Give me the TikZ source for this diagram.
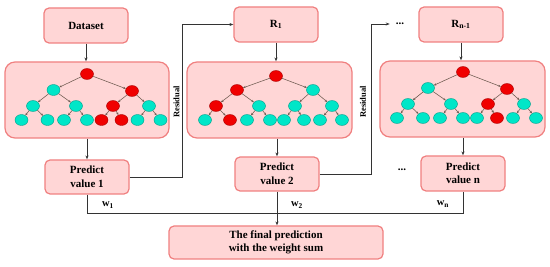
\documentclass[tikz,border=0pt]{standalone}
\usepackage{fontspec}
\setmainfont{Liberation Serif}
\usetikzlibrary{arrows.meta,shapes.geometric}
\definecolor{boxfill}{RGB}{255,214,214}
\definecolor{boxline}{RGB}{240,128,128}
\definecolor{cyanfill}{RGB}{0,230,200}
\definecolor{cyanline}{RGB}{0,160,140}
\definecolor{redfill}{RGB}{240,0,0}
\definecolor{redline}{RGB}{170,0,0}
\definecolor{edgecol}{RGB}{110,90,80}
\tikzset{
  pbox/.style={draw=boxline,fill=boxfill,line width=1.2pt,rounded corners=5pt,
    minimum width=84pt,minimum height=35pt,inner sep=0pt,align=center,
    font=\fontsize{11}{13.5}\selectfont\bfseries},
  tbox/.style={draw=boxline,fill=boxfill,line width=1.2pt,rounded corners=10pt,
    minimum width=164pt,minimum height=76pt,inner sep=0pt},
  cn/.style={ellipse,draw=cyanline,fill=cyanfill,line width=0.4pt,minimum width=13pt,minimum height=11pt,inner sep=0pt},
  rn/.style={ellipse,draw=redline,fill=redfill,line width=0.4pt,minimum width=13pt,minimum height=11pt,inner sep=0pt},
  tedge/.style={draw=edgecol,line width=0.55pt,-{Stealth[length=2.6pt,width=2.2pt]}},
  conn/.style={draw=black!80,line width=0.8pt},
  carrow/.style={conn,-{Stealth[length=4pt,width=3pt]}},
  lbl/.style={font=\fontsize{10.5}{12}\selectfont\bfseries,inner sep=0pt},
  rlbl/.style={font=\fontsize{8.5}{10}\selectfont\bfseries,inner sep=0pt,rotate=90},
  dots/.style={font=\fontsize{11}{12}\selectfont\bfseries,inner sep=0pt}
}
\newcommand\treeedges[1]{%
  \foreach \p/\q in {root/a,root/b,a/aa,a/ab,b/ba,b/bb,aa/aaa,aa/aab,ab/aba,ab/abb,ba/baa,ba/bab,bb/bba,bb/bbb}
    \draw[tedge] (#1\p) -- (#1\q);}
\begin{document}
\begin{tikzpicture}[x=1pt,y=-1pt]
\useasboundingbox (0,0) rectangle (550,267);

% top boxes
\node[pbox] (ds) at (86,25.5) {Dataset};
\node[pbox] (r1) at (276,24.5) {R\textsubscript{1}};
\node[pbox] (rn) at (461,24.5) {R\textsubscript{n-1}};

% tree boxes
\node[tbox] (t1) at (87,100) {};
\node[tbox,minimum width=165pt] (t2) at (269.5,100) {};
\node[tbox,minimum width=165pt] (t3) at (462.5,99) {};

% predict boxes
\node[pbox,minimum height=34pt] (p1) at (87,177) {Predict\\value 1};
\node[pbox,minimum height=34pt] (p2) at (277,174) {Predict\\value 2};
\node[pbox] (pn) at (463,173.5) {Predict\\value n};

% final box
\node[pbox,minimum width=214pt,minimum height=33pt] (fin) at (276,242.5) {The final prediction\\with the weight sum};

% tree 1
\begin{scope}[shift={(91,62)}]
\foreach \n/\x/\y/\c in {root/-4/12/rn,a/-37.5/28/cn,b/41/29/rn,aa/-58/44/cn,ab/-15/44/cn,ba/22/44/rn,bb/58/44/cn,
  aaa/-69.5/58/cn,aab/-43.5/58/cn,aba/-27/58/cn,abb/-4/58/cn,baa/10.5/58/rn,bab/30.5/58/rn,bba/46.5/58/cn,bbb/69.5/58/cn}
  \node[\c] (A\n) at (\x,\y) {};
\end{scope}
\treeedges{A}

% tree 2
\begin{scope}[shift={(273.5,62)}]
\foreach \n/\x/\y/\c in {root/2.5/14/rn,a/-36.5/28/rn,b/39.5/28/cn,aa/-57.5/44/rn,ab/-14.5/44/cn,ba/21.5/44/cn,bb/58.5/44/cn,
  aaa/-68.5/58/cn,aab/-43.5/58/rn,aba/-26.5/58/cn,abb/-3.5/58/cn,baa/10.5/58/cn,bab/30.5/58/cn,bba/46.5/58/cn,bbb/68.5/58/cn}
  \node[\c] (B\n) at (\x,\y) {};
\end{scope}
\treeedges{B}

% tree 3
\begin{scope}[shift={(466.5,61)}]
\foreach \n/\x/\y/\c in {root/-3.5/11/rn,a/-38.5/27/cn,b/40.5/28/rn,aa/-58.5/43/cn,ab/-15.5/43/cn,ba/21.5/43/rn,bb/57.5/43/cn,
  aaa/-69.5/57/cn,aab/-43.5/57/cn,aba/-26.5/57/cn,abb/-3.5/57/cn,baa/10.5/57/cn,bab/30.5/57/rn,bba/46.5/57/cn,bbb/69.5/57/cn}
  \node[\c] (C\n) at (\x,\y) {};
\end{scope}
\treeedges{C}

% vertical flow
\draw[carrow] (ds.south) -- (ds.south |- t1.north);
\draw[carrow] (t1.south -| p1.north) -- (p1.north);
\draw[carrow] (r1.south) -- (r1.south |- t2.north);
\draw[carrow] (t2.south -| p2.north) -- (p2.north);
\draw[carrow] (rn.south) -- (rn.south |- t3.north);
\draw[carrow] (t3.south -| pn.north) -- (pn.north);

% residual paths
\coordinate (k1) at (182,0);
\coordinate (k2) at (371,0);
\node[dots] (dt) at (400,24) {...};
\node[dots] (dm) at (402,170) {...};
\draw[carrow] (p1.east) -| (k1 |- r1.west) -- (r1.west);
\draw[carrow] (p2.east) -| (k2 |- dt.west) -- ([xshift=-6pt]dt.west);
\node[rlbl] (res1) at (176.5,102) {Residual};
\node[rlbl] (res2) at (363,102) {Residual};

% weight sum
\coordinate (wy) at (0,213);
\draw[conn] (p1.south) |- (pn.south |- wy) -- (pn.south);
\draw[carrow] (p2.south) -- (p2.south |- fin.north);
\node[lbl] (w1) at (108,205) {w\textsubscript{1}};
\node[lbl] (w2) at (297,205) {w\textsubscript{2}};
\node[lbl] (wn) at (443,204) {w\textsubscript{n}};
\end{tikzpicture}
\end{document}
